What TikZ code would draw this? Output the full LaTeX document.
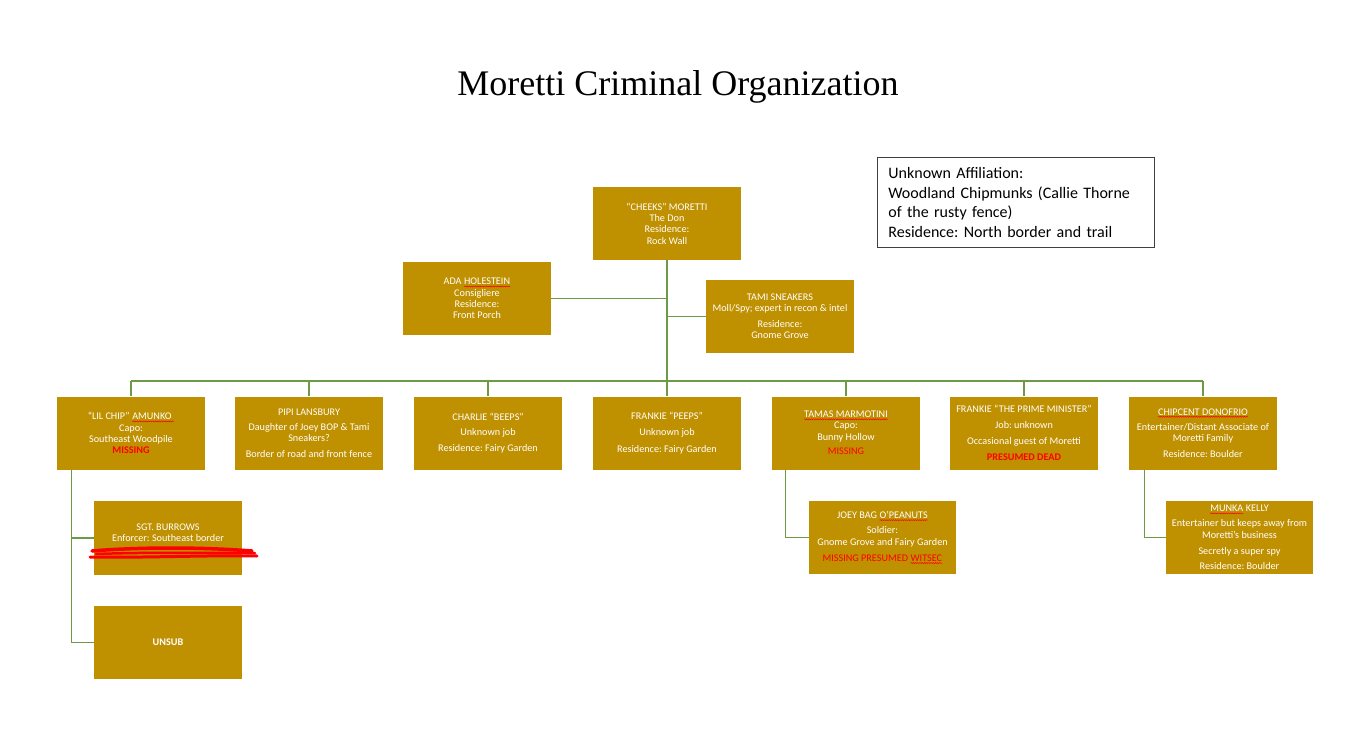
\documentclass[tikz,border=0pt]{standalone}
\usepackage{fontspec}
\usetikzlibrary{decorations.pathmorphing}
\setmainfont{Carlito}
\newfontfamily\titlefont{Liberation Serif}
\frenchspacing
\definecolor{boxgold}{HTML}{BF9000}
\definecolor{conngreen}{HTML}{6C9A45}
\definecolor{missred}{HTML}{FF0000}
\definecolor{framegray}{HTML}{404040}
\newcommand\sqw[2][white]{\tikz[baseline=(sqt.base), x=1pt, y=1pt]{\node[inner sep=0pt, outer sep=0pt,
    minimum width=0pt, minimum height=0pt, fill=none, draw=none, text=#1] (sqt) {#2};
  \draw[red, line width=0.5pt, decorate, decoration={snake, amplitude=0.5pt, segment length=2.2pt}]
    ([yshift=-1.7pt]sqt.base west) -- ([yshift=-1.7pt]sqt.base east);}}
\tikzset{
  gbox/.style={fill=boxgold, minimum width=148pt, minimum height=73pt, inner sep=0pt,
    text=white, align=center, font=\fontsize{10.2}{11.3}\selectfont},
  conn/.style={draw=conngreen, line width=1.1pt},
  mainconn/.style={draw=conngreen, line width=1.7pt},
}
\begin{document}
\begin{tikzpicture}[x=1pt,y=-1pt]
\useasboundingbox (0,0) rectangle (1366,737);
\fill[white] (0,0) rectangle (1366,737);

\node[font=\titlefont\fontsize{36}{40}\selectfont] (title) at (678,87) {Moretti Criminal Organization};

\node[draw=framegray, line width=0.8pt, anchor=north west, minimum width=277pt, minimum height=90pt,
  text width=255pt, inner xsep=11pt, align=left, font=\fontsize{16}{19.5}\selectfont] (unknown) at (877,157)
  {Unknown Affiliation:\\Woodland Chipmunks (Callie Thorne\\of the rusty fence)\\Residence: North border and trail};

\node[gbox] (cheeks) at (667,223.5) {“CHEEKS” MORETTI\\The Don\\Residence:\\Rock Wall};
\node[gbox] (ada) at (477,298.5) {ADA \sqw{HOLESTEIN}\\Consigliere\\Residence:\\Front Porch};
\node[gbox] (tami) at (780,316.5) {TAMI SNEAKERS\\Moll/Spy; expert in recon \& intel\\[4.5pt]Residence:\\Gnome Grove};

\node[gbox] (lil) at (131,433) {“LIL CHIP” \sqw{AMUNKO\ }\\Capo:\\Southeast Woodpile\\{\color{missred}\bfseries MISSING}};
\node[gbox] (pipi) at (309,433) {PIPI LANSBURY\\[4pt]Daughter of Joey BOP \& Tami\\Sneakers?\\[4pt]Border of road and front fence};
\node[gbox] (charlie) at (488,433) {CHARLIE “BEEPS”\\[4pt]Unknown job\\[5pt]Residence: Fairy Garden};
\node[gbox] (peeps) at (667,433) {FRANKIE “PEEPS”\\[5pt]Unknown job\\[5pt]Residence: Fairy Garden};
\node[gbox] (tamas) at (846,433) {\sqw{TAMAS MARMOTINI}\\Capo:\\Bunny Hollow\\[3.5pt]{\color{missred}MISSING}};
\node[gbox] (pm) at (1024,433) {FRANKIE “THE PRIME MINISTER”\\[4.5pt]Job: unknown\\[4.5pt]Occasional guest of Moretti\\[4.5pt]{\color{missred}\bfseries PRESUMED DEAD}};
\node[gbox] (chip) at (1203,433) {\sqw{CHIPCENT DONOFRIO}\\[4pt]Entertainer/Distant Associate of\\Moretti Family\\[4.5pt]Residence: Boulder};

\node[gbox, minimum height=74pt] (sgt) at (168,538) {SGT. BURROWS\\Enforcer: Southeast border\\\mbox{}};
\node[gbox] (unsub) at (168,642.5) {\bfseries UNSUB};
\node[gbox, minimum width=147pt] (joey) at (882.5,537.5) {JOEY BAG \sqw{O’PEANUTS}\\[4pt]Soldier:\\Gnome Grove and Fairy Garden\\[5pt]{\color{missred}MISSING PRESUMED \sqw[missred]{WITSEC}}};
\node[gbox, minimum width=147pt] (munka) at (1239.5,537.5) {\sqw{MUNKA} KELLY\\[4pt]Entertainer but keeps away from\\Moretti’s business\\[4.5pt]Secretly a super spy\\[4.5pt]Residence: Boulder};

% red scribble over the Sgt. Burrows box
\draw[red, line width=3.5pt, line cap=round] (92,551) .. controls (140,547) and (200,547) .. (252,551);
\draw[red, line width=3pt, line cap=round] (90,557) .. controls (140,558) and (210,555) .. (257,556);
\draw[red, line width=2.5pt, line cap=round] (96,554) .. controls (150,552) and (205,553) .. (255,553);

% connectors
\coordinate (busC) at (667,381);
\draw[mainconn] (cheeks.south) -- (busC);
\draw[conn] (ada.east) -- (ada.east -| cheeks.south);
\draw[conn] (tami.west) -- (tami.west -| cheeks.south);
\draw[conn] (lil.north |- busC) -- (chip.north |- busC);
\foreach \n in {lil,pipi,charlie,peeps,tamas,pm,chip}{
  \draw[conn] (\n.north) -- (\n.north |- busC);
}
\coordinate (lilv) at ([xshift=15pt]lil.south west);
\draw[conn] (lilv) |- (sgt.west);
\draw[conn] (lilv) |- (unsub.west);
\coordinate (tamv) at ([xshift=14pt]tamas.south west);
\draw[conn] (tamv) |- (joey.west);
\coordinate (chipv) at ([xshift=16pt]chip.south west);
\draw[conn] (chipv) |- (munka.west);
\end{tikzpicture}
\end{document}
